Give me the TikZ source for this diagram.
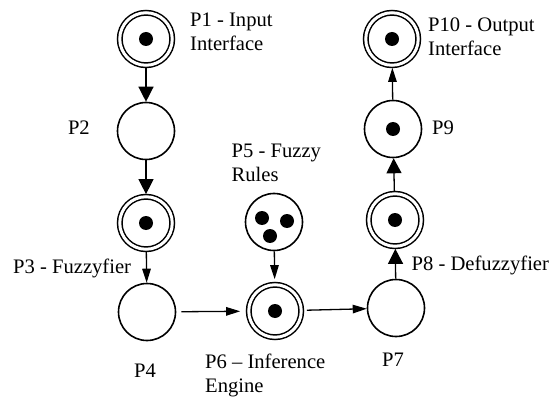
\documentclass[tikz,border=0pt]{standalone}
\usepackage{fontspec}
\setmainfont{Liberation Serif}
\usetikzlibrary{arrows.meta}

\begin{document}
\begin{tikzpicture}[x=1pt, y=-1pt,
  place/.style={circle, draw, line width=1.6pt, minimum size=57pt, inner sep=0pt},
  dplace/.style={circle, draw, line width=1.5pt, double, double distance=3pt,
                 minimum size=52.5pt, inner sep=0pt, outer sep=2.6pt},
  lbl/.style={inner sep=0pt, anchor=base west,
              font=\fontsize{20.6}{24}\selectfont},
  bigarr/.style={line width=1.3pt, -{Triangle[length=15pt,width=15pt]}},
  narr/.style={line width=1.3pt, -{Triangle[length=14pt,width=8.5pt]}}]
  \useasboundingbox (0,0) rectangle (551,398);

  % places
  \node[dplace] (P1)  at (146,39)  {};
  \node[place]  (P2)  at (146,131) {};
  \node[dplace] (P3)  at (146,223) {};
  \node[place]  (P4)  at (147,312) {};
  \node[place]  (P5)  at (274,222) {};
  \node[dplace] (P6)  at (275,311) {};
  \node[place]  (P7)  at (396,308) {};
  \node[dplace] (P8)  at (395,220) {};
  \node[place]  (P9)  at (393,129) {};
  \node[dplace] (P10) at (392,39)  {};

  % tokens
  \foreach \p in {P1,P3,P6,P8,P9,P10}
    \fill (\p.center) circle (7);
  \fill ([shift={(-12,-4)}]P5.center) circle (7);
  \fill ([shift={(13,-1)}]P5.center) circle (7);
  \fill ([shift={(-4,14)}]P5.center) circle (7);

  % arcs
  \draw[bigarr] (P1) -- (P2);
  \draw[bigarr] (P2) -- (P3);
  \draw[narr]   (P3) -- (P4);
  \draw[narr, shorten <=5pt, shorten >=6pt] (P4) -- (P6);
  \draw[narr, shorten >=3pt] (P5) -- (P6);
  \draw[narr, shorten <=3pt] (P6) -- (P7);
  \draw[bigarr] (P7) -- (P8);
  \draw[bigarr] (P8) -- (P9);
  \draw[narr]   (P9) -- (P10);

  % labels (two-line ones are top-aligned tabulars, so the base anchor is the first line)
  \node[lbl] (L1)  at (190,27)    {\begin{tabular}[t]{@{}l@{}}P1 - Input\\Interface\end{tabular}};
  \node[lbl, anchor=base east] (L2) at (90,135) {P2};
  \node[lbl] (L3)  at (13,273)    {P3 - Fuzzyfier};
  \node[lbl] (L4)  at (134,377)   {P4};
  \node[lbl] (L5)  at (231.5,158) {\begin{tabular}[t]{@{}l@{}}P5 - Fuzzy\\Rules\end{tabular}};
  \node[lbl] (L6)  at (205,368)   {\begin{tabular}[t]{@{}l@{}}P6 – Inference\\Engine\end{tabular}};
  \node[lbl] (L7)  at (382,366.5) {P7};
  \node[lbl] (L8)  at (411.5,270) {P8 - Defuzzyfier};
  \node[lbl] (L9)  at (432,135)   {P9};
  \node[lbl] (L10) at (428,32)    {\begin{tabular}[t]{@{}l@{}}P10 - Output\\Interface\end{tabular}};
\end{tikzpicture}
\end{document}
